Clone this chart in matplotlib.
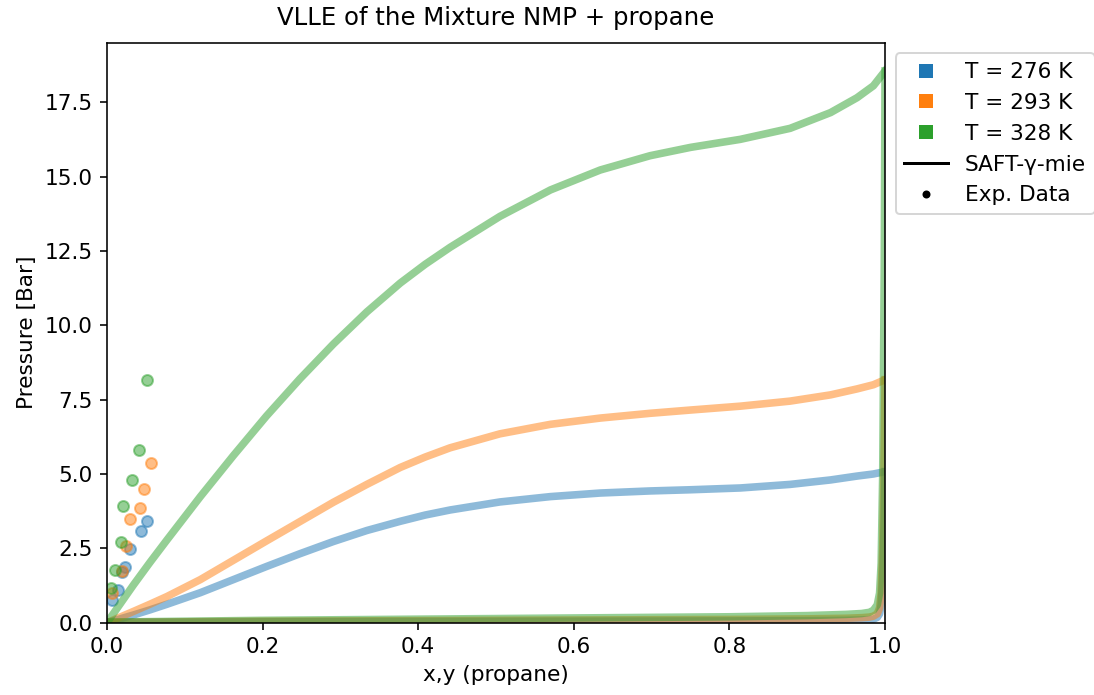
import matplotlib
matplotlib.use("Agg")
import matplotlib.pyplot as plt
from matplotlib.lines import Line2D

plt.rcParams['font.size'] = 10.8

# temperatures / colours
temps = [276, 293, 328]
colors = ['tab:blue', 'tab:orange', 'tab:green']

# SAFT bubble curves (x propane, P in bar)
bub_x = [0.0, 0.034, 0.055, 0.077, 0.12, 0.1625, 0.205, 0.248, 0.291, 0.334, 0.377,
         0.409, 0.441, 0.505, 0.570, 0.634, 0.698, 0.75, 0.814, 0.878, 0.930,
         0.964, 0.985, 1.0]
bub_276 = [0.0, 0.26, 0.43, 0.62, 1.01, 1.45, 1.89, 2.32, 2.73, 3.1, 3.41,
           3.62, 3.79, 4.06, 4.24, 4.36, 4.43, 4.47, 4.53, 4.65, 4.8,
           4.93, 5.0, 5.08]
bub_293 = [0.0, 0.38, 0.62, 0.88, 1.45, 2.1, 2.75, 3.4, 4.05, 4.65, 5.22,
           5.57, 5.88, 6.35, 6.67, 6.88, 7.04, 7.15, 7.28, 7.45, 7.66,
           7.86, 8.0, 8.17]
bub_328 = [0.0, 1.27, 2.02, 2.78, 4.24, 5.62, 6.95, 8.2, 9.37, 10.45, 11.42,
           12.05, 12.62, 13.66, 14.55, 15.22, 15.7, 15.98, 16.25, 16.62, 17.15,
           17.65, 18.05, 18.55]

# SAFT dew curves (y propane, P in bar)
dew_x = [0.0, 0.2, 0.4, 0.6, 0.8, 0.9, 0.95, 0.97, 0.98, 0.985, 0.99,
         0.993, 0.995, 0.997, 0.999, 1.0]
dew_276 = [0.01, 0.03, 0.04, 0.05, 0.06, 0.07, 0.08, 0.09, 0.10, 0.12, 0.18,
           0.3, 0.6, 1.5, 3.5, 5.08]
dew_293 = [0.01, 0.05, 0.07, 0.09, 0.11, 0.13, 0.15, 0.17, 0.19, 0.22, 0.3,
           0.5, 1.0, 2.5, 6.0, 8.17]
dew_328 = [0.02, 0.08, 0.12, 0.16, 0.2, 0.24, 0.28, 0.31, 0.35, 0.42, 0.6,
           1.0, 2.0, 5.0, 12.0, 18.55]

# experimental data
exp_x_276 = [0.006, 0.0137, 0.0197, 0.023, 0.029, 0.044, 0.052]
exp_p_276 = [0.75, 1.11, 1.69, 1.87, 2.49, 3.10, 3.42]
exp_x_293 = [0.006, 0.019, 0.024, 0.029, 0.043, 0.047, 0.0566]
exp_p_293 = [1.0, 1.73, 2.57, 3.50, 3.84, 4.48, 5.37]
exp_x_328 = [0.005, 0.0103, 0.0176, 0.021, 0.032, 0.041, 0.051]
exp_p_328 = [1.17, 1.78, 2.70, 3.92, 4.81, 5.82, 8.16]

bubbles = [bub_276, bub_293, bub_328]
dews = [dew_276, dew_293, dew_328]
exp_x = [exp_x_276, exp_x_293, exp_x_328]
exp_p = [exp_p_276, exp_p_293, exp_p_328]

fig = plt.figure(figsize=(1094 / 144, 695 / 144), dpi=144)
ax = fig.add_axes([0.0978, 0.104, 0.7112, 0.8346])

for i in range(3):
    ax.plot(bub_x, bubbles[i], color=colors[i], lw=3.8, alpha=0.5)
    ax.plot(dew_x, dews[i], color=colors[i], lw=3.8, alpha=0.5)
    ax.scatter(exp_x[i], exp_p[i], color=colors[i], s=30, alpha=0.5)

ax.set_xlim(0, 1)
ax.set_ylim(0, 19.5)
ax.set_xlabel('x,y (propane)')
ax.set_ylabel('Pressure [Bar]')
ax.set_title('VLLE of the Mixture NMP + propane', fontsize=12.2, pad=9)

handles = [Line2D([], [], marker='s', ls='', color=c, label='T = %d K' % t)
           for t, c in zip(temps, colors)]
handles.append(Line2D([], [], color='k', label='SAFT-γ-mie'))
handles.append(Line2D([], [], marker='.', ls='', color='k', label='Exp. Data'))
ax.legend(handles=handles, loc='upper left', bbox_to_anchor=(1, 1))

plt.savefig('out.png', dpi=144)
